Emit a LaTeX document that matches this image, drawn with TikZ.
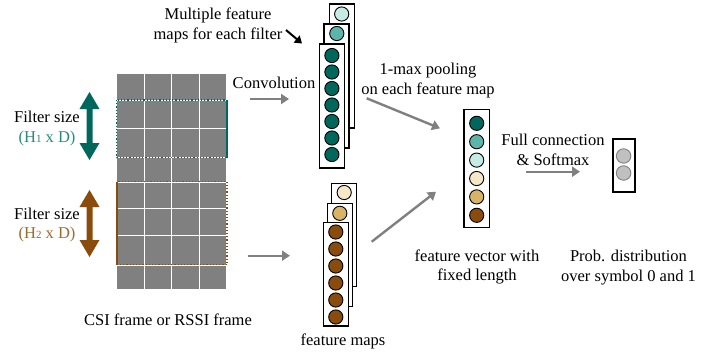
\documentclass[tikz,border=0pt]{standalone}
\usepackage{fontspec}
\setmainfont{Liberation Serif}
\usetikzlibrary{arrows.meta}
\definecolor{tealD}{HTML}{00675C}
\definecolor{tealM}{HTML}{5BB5AA}
\definecolor{tealL}{HTML}{C5EBE4}
\definecolor{brnD}{HTML}{8A4C0C}
\definecolor{brnM}{HTML}{D8B466}
\definecolor{brnL}{HTML}{F6E7C6}
\definecolor{gridgray}{HTML}{808080}
\definecolor{arrgray}{HTML}{808080}
\definecolor{tealtext}{HTML}{2A8A7E}
\definecolor{brntext}{HTML}{9A6A2E}
\definecolor{outgray}{HTML}{C0C0C0}
\tikzset{
 lbl/.style={font=\fontsize{16.5}{19.5}\selectfont, align=center, inner sep=0pt},
 mapbox/.style={draw=black, line width=1.2pt, fill=white, minimum width=25pt, inner sep=0pt},
 dot/.style={circle, draw=black, line width=0.9pt, minimum size=14.2pt, inner sep=0pt},
 garrow/.style={draw=arrgray, line width=2.4pt, -{Triangle[length=8pt,width=10pt]}},
 barrow/.style={draw=black, line width=2pt, -{Triangle[length=7pt,width=9pt]}},
}
\newcommand{\smallone}[1]{{\fontsize{11}{11}\selectfont #1}}
\begin{document}
\begin{tikzpicture}[x=1pt,y=-1pt]
\useasboundingbox (0,0) rectangle (718,354);
\fill[white] (0,0) rectangle (718,354);
% grid
\node[fill=gridgray, minimum width=109.3pt, minimum height=215pt, inner sep=0pt] (grid) at (171.35,181.5) {};
\foreach \x in {144,171.5,199} \draw[white, line width=1pt] (\x,74) -- (\x,289);
\foreach \y in {100,128.3,157,182,208.3,235,265} \draw[white, line width=1pt] (116.7,\y) -- (226,\y);
% filter boxes
\draw[tealD, dotted, line width=1.2pt] (116.7,100) rectangle (226.5,157.7);
\draw[tealD, line width=2pt] (226.5,100) -- (226.5,157.7);
\draw[brnD, dotted, line width=1.2pt] (116.5,181.7) rectangle (227,264.7);
\draw[brnD, line width=2pt] (116.5,181.7) -- (116.5,264.7);
% double arrows
\fill[tealD] (89.5,92) -- (99.5,109) -- (92.5,109) -- (92.5,143) -- (99.5,143) -- (89.5,160) -- (79.5,143) -- (86.5,143) -- (86.5,109) -- (79.5,109) -- cycle;
\fill[brnD] (89.5,190) -- (99.5,207) -- (92.5,207) -- (92.5,240) -- (99.5,240) -- (89.5,257) -- (79.5,240) -- (86.5,240) -- (86.5,207) -- (79.5,207) -- cycle;
% filter labels
\node[lbl] (f1) at (47,128.5) {Filter size\\\textcolor{tealtext}{(H\smallone{1} x D)}};
\node[lbl] (f2) at (47,225) {Filter size\\\textcolor{brntext}{(H\smallone{2} x D)}};
\node[lbl] (csi) at (168,320) {CSI frame or RSSI frame};
% teal stack
\node[mapbox, minimum height=124pt] (t3) at (341.7,66) {};
\node[mapbox, minimum height=124pt] (t2) at (336.5,86) {};
\node[mapbox, minimum height=124pt] (t1) at (331.9,106) {};
\node[dot, fill=tealL] (t3c) at (341.7,14) {};
\node[dot, fill=tealM] (t2c) at (336.8,33.5) {};
\foreach \k in {0,...,6} \node[dot, fill=tealD] (t1c\k) at (331.9,55.5+16.5*\k) {};
% brown stack
\node[mapbox, minimum height=103.4pt] (b3) at (344.2,235) {};
\node[mapbox, minimum height=103.4pt] (b2) at (339.8,255) {};
\node[mapbox, minimum height=103.4pt] (b1) at (335.8,274.3) {};
\node[dot, fill=brnL] (b3c) at (344.2,192.5) {};
\node[dot, fill=brnM] (b2c) at (339.8,213.3) {};
\foreach \k in {0,...,5} \node[dot, fill=brnD] (b1c\k) at (335.8,232+17*\k) {};
\node[lbl] (fm) at (343,341.7) {feature maps};
% feature vector
\node[mapbox, minimum width=25.3pt, minimum height=118.4pt] (fv) at (476.7,168.5) {};
\node[dot, fill=tealD] (v1) at (476.7,123.3) {};
\node[dot, fill=tealM] (v2) at (476.7,141.7) {};
\node[dot, fill=tealL] (v3) at (476.7,160.1) {};
\node[dot, fill=brnL] (v4) at (476.7,178.5) {};
\node[dot, fill=brnM] (v5) at (476.7,196.9) {};
\node[dot, fill=brnD] (v6) at (476.7,215.3) {};
\node[lbl] (fvl) at (477,267) {feature vector with\\fixed length};
% output
\node[mapbox, line width=1.8pt, minimum width=22.3pt, minimum height=52.4pt] (out) at (623.9,165.5) {};
\node[dot, draw=gridgray, fill=outgray, minimum size=14.5pt] (o1) at (623.6,156) {};
\node[dot, draw=gridgray, fill=outgray, minimum size=14.5pt] (o2) at (623.6,173) {};
\node[lbl] (pd) at (628.5,267.5) {Prob. distribution\\over symbol 0 and 1};
% labels
\node[lbl] (mf) at (218,25.5) {Multiple feature\\maps for each filter};
\node[lbl] (conv) at (274,83.3) {Convolution};
\node[lbl] (pool) at (428,80.5) {1-max pooling\\on each feature map};
\node[lbl] (fc) at (553,149.7) {Full connection\\\& Softmax};
% arrows
\coordinate (a1s) at (250,99); \coordinate (a1e) at (289,99);
\coordinate (a2s) at (247.7,255.7); \coordinate (a2e) at (290,255.7);
\coordinate (a3s) at (366.7,98.3); \coordinate (a3e) at (440,128.3);
\coordinate (a4s) at (371.7,241.7); \coordinate (a4e) at (436,191.7);
\coordinate (a5s) at (526,171.7); \coordinate (a5e) at (580,171.7);
\coordinate (a6s) at (286,30); \coordinate (a6e) at (302,43.5);
\draw[garrow] (a1s) -- (a1e);
\draw[garrow] (a2s) -- (a2e);
\draw[garrow] (a3s) -- (a3e);
\draw[garrow] (a4s) -- (a4e);
\draw[garrow] (a5s) -- (a5e);
\draw[barrow] (a6s) -- (a6e);
\end{tikzpicture}
\end{document}
